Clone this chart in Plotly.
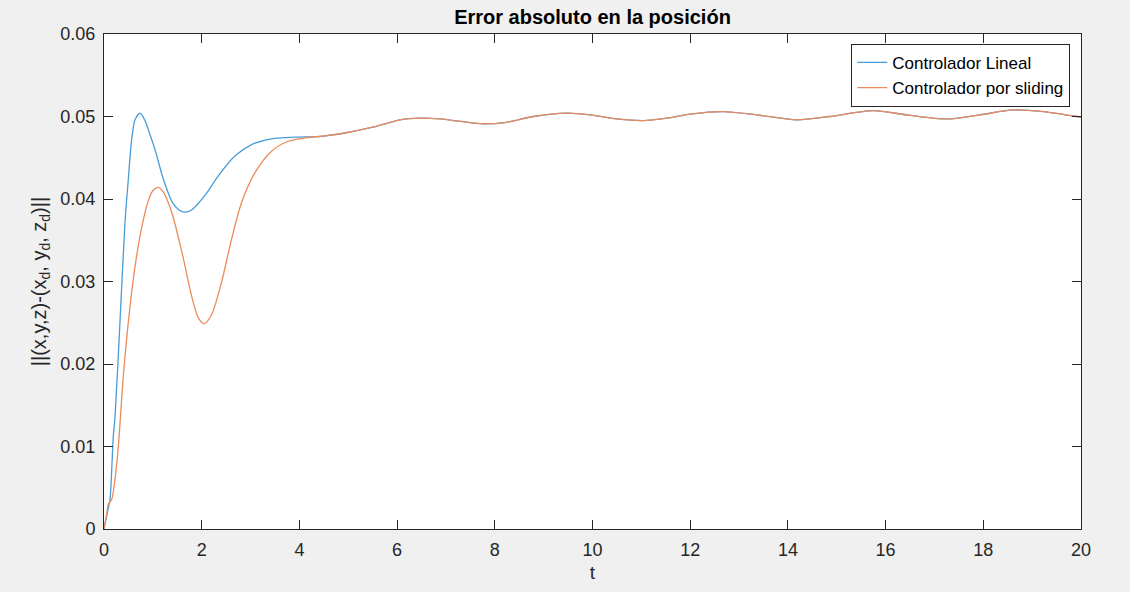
import plotly.graph_objects as go

# Time samples (s) and error values
t_lin = [0, 0.055, 0.123, 0.158, 0.19, 0.225, 0.328, 0.43, 0.498, 0.566, 0.635, 0.737, 0.84, 0.907, 1.044, 1.215, 1.4,
         1.53, 1.66, 1.8, 1.95, 2.1, 2.34, 2.68, 3.02, 3.43, 3.91, 4.45, 4.93,
         5.5, 6.06, 6.47, 6.88, 7.3, 7.76, 8.24, 8.79, 9.47, 9.95, 10.5, 11.04, 11.52,
         12.0, 12.68, 13.36, 14.18, 14.86, 15.75, 16.43, 17.25, 17.93, 18.61, 19.23, 19.91, 20.0]
e_lin = [0, 0.0016, 0.0036, 0.0072, 0.0112, 0.0135, 0.0252, 0.0372, 0.0424, 0.0472, 0.0496, 0.0504, 0.0495, 0.0484, 0.0460, 0.0424, 0.0396,
         0.0387, 0.0384, 0.0387, 0.0396, 0.0407, 0.0428, 0.0452, 0.0466, 0.0473, 0.0475, 0.0476, 0.0480,
         0.0487, 0.0496, 0.0498, 0.0497, 0.0494, 0.0491, 0.0493, 0.0500, 0.0504, 0.0502, 0.0497, 0.0495, 0.0498,
         0.0503, 0.0506, 0.0502, 0.0496, 0.0500, 0.0507, 0.0502, 0.0497, 0.0502, 0.0508, 0.0506, 0.0500, 0.0499]

t_sld = [0, 0.055, 0.088, 0.158, 0.225, 0.293, 0.395, 0.5, 0.635, 0.77, 0.907, 1.0, 1.112, 1.22, 1.351,
         1.453, 1.556, 1.624, 1.795, 1.931, 2.054, 2.204, 2.41, 2.614, 2.818, 3.09, 3.43, 3.77, 4.11, 4.59, 4.93,
         5.5, 6.06, 6.47, 6.88, 7.3, 7.76, 8.24, 8.79, 9.47, 9.95, 10.5, 11.04, 11.52,
         12.0, 12.68, 13.36, 14.18, 14.86, 15.75, 16.43, 17.25, 17.93, 18.61, 19.23, 19.91, 20.0]
e_sld = [0, 0.0018, 0.0030, 0.0036, 0.0060, 0.0100, 0.0185, 0.0252, 0.0318, 0.0365, 0.0398, 0.0410, 0.0414, 0.0408, 0.0390,
         0.0370, 0.0345, 0.0328, 0.0282, 0.0256, 0.0249, 0.0260, 0.0300, 0.0352, 0.0396, 0.0432, 0.0458, 0.0470, 0.0474, 0.0477, 0.0480,
         0.0487, 0.0496, 0.0498, 0.0497, 0.0494, 0.0491, 0.0493, 0.0500, 0.0504, 0.0502, 0.0497, 0.0495, 0.0498,
         0.0503, 0.0506, 0.0502, 0.0496, 0.0500, 0.0507, 0.0502, 0.0497, 0.0502, 0.0508, 0.0506, 0.0500, 0.0499]

series_names = ["Controlador Lineal", "Controlador por sliding"]
x_ticks = [0, 2, 4, 6, 8, 10, 12, 14, 16, 18, 20]
y_ticks = [0, 0.01, 0.02, 0.03, 0.04, 0.05, 0.06]
y_tick_text = ["0", "0.01", "0.02", "0.03", "0.04", "0.05", "0.06"]

AX = "#262626"
FONT = "Liberation Sans, Arial, sans-serif"

fig = go.Figure()
fig.add_trace(go.Scatter(x=t_lin, y=e_lin, mode="lines", name=series_names[0],
                         line=dict(color="#4A9DD8", width=1.3, shape="spline", smoothing=0.8)))
fig.add_trace(go.Scatter(x=t_sld, y=e_sld, mode="lines", name=series_names[1],
                         line=dict(color="#EC8A5C", width=1.3, shape="spline", smoothing=0.8)))

axis_common = dict(showgrid=False, zeroline=False, showline=True, linecolor=AX, linewidth=1,
                   mirror="ticks", ticks="inside", ticklen=9, tickcolor=AX, tickwidth=1,
                   tickfont=dict(family=FONT, size=18, color=AX))

fig.update_layout(
    width=1130, height=592,
    margin=dict(l=104, r=49, t=34, b=59),
    paper_bgcolor="#f0f0f0", plot_bgcolor="white",
    title=dict(text="<b>Error absoluto en la posición</b>", x=(104 + 1081) / 2 / 1130, xanchor="center",
               y=1 - 17 / 592, yanchor="middle", font=dict(family=FONT, size=20, color="black")),
    xaxis=dict(range=[0, 20], tickvals=x_ticks, ticktext=[str(v) for v in x_ticks],
               ticklabelstandoff=4,
               title=dict(text="t", font=dict(family=FONT, size=19, color=AX), standoff=7),
               **axis_common),
    yaxis=dict(range=[0, 0.06], tickvals=y_ticks, ticktext=y_tick_text,
               ticklabelstandoff=4,
               title=dict(text="||(x,y,z)-(x<sub>d</sub>, y<sub>d</sub>, z<sub>d</sub>)||",
                          font=dict(family=FONT, size=20, color=AX), standoff=8),
               **axis_common),
    legend=dict(x=0.989, y=0.98, xanchor="right", yanchor="top", bgcolor="white",
                bordercolor=AX, borderwidth=1, font=dict(family=FONT, size=17, color="black"),
                tracegroupgap=0, itemwidth=30),
    showlegend=True,
)

fig.write_html("out.html")
